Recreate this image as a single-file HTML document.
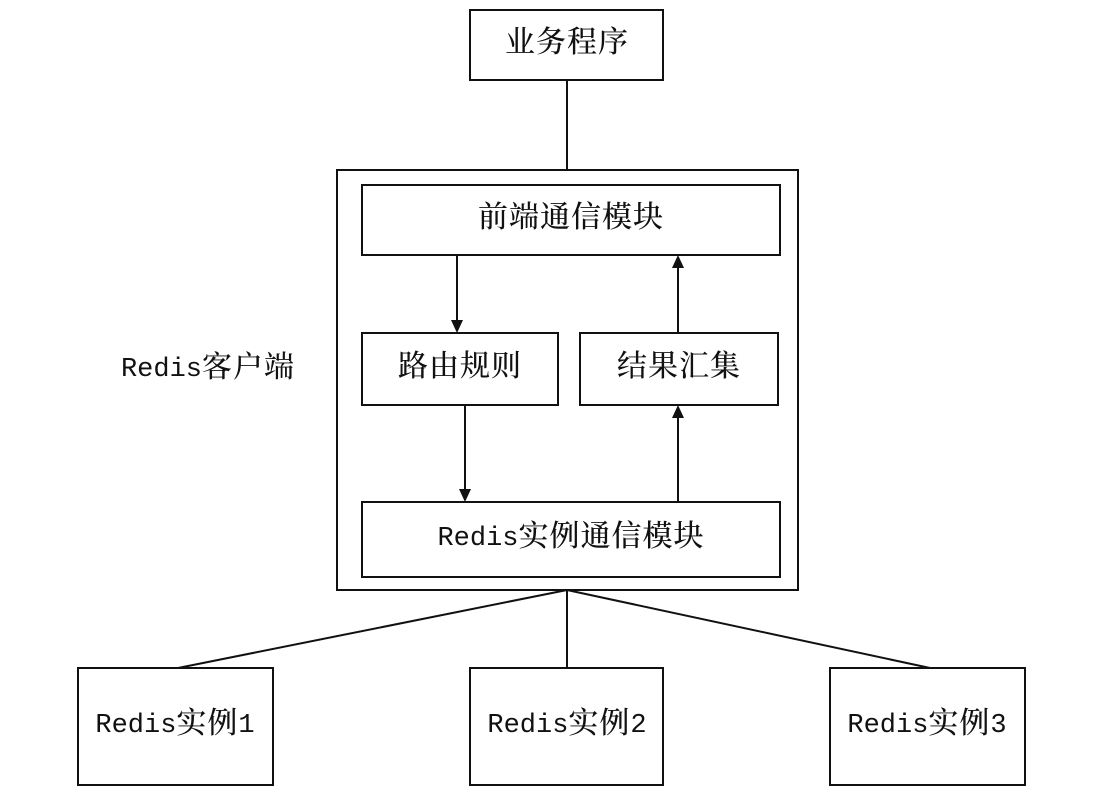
<!DOCTYPE html>
<html><head><meta charset="utf-8"><style>
html,body{margin:0;padding:0;background:#fff;}
svg text{font-family:"Liberation Mono","Noto Serif CJK SC","Noto Sans CJK SC",monospace;font-size:27px;fill:#111;text-anchor:middle;dominant-baseline:central;}
svg tspan.c{font-size:30px;letter-spacing:1px;font-weight:500;}
</style></head><body>
<svg width="1105" height="799" viewBox="0 0 1105 799" xmlns="http://www.w3.org/2000/svg">
<g fill="none" stroke="#111" stroke-width="2">
<rect x="470" y="10" width="193" height="70"/>
<line x1="567" y1="80" x2="567" y2="170"/>
<rect x="337" y="170" width="461" height="420"/>
<rect x="362" y="185" width="418" height="70"/>
<rect x="362" y="333" width="196" height="72"/>
<rect x="580" y="333" width="198" height="72"/>
<rect x="362" y="502" width="418" height="75"/>
<line x1="567" y1="590" x2="178" y2="668"/>
<line x1="567" y1="590" x2="567" y2="668"/>
<line x1="567" y1="590" x2="930" y2="668"/>
<rect x="78" y="668" width="195" height="117"/>
<rect x="470" y="668" width="193" height="117"/>
<rect x="830" y="668" width="195" height="117"/>
<line x1="457" y1="255" x2="457" y2="322"/>
<line x1="678" y1="333" x2="678" y2="266"/>
<line x1="465" y1="405" x2="465" y2="491"/>
<line x1="678" y1="502" x2="678" y2="416"/>
</g>
<g fill="#111">
<path d="M451,320 L463,320 L457,333 Z"/>
<path d="M672,268 L684,268 L678,255 Z"/>
<path d="M459,489 L471,489 L465,502 Z"/>
<path d="M672,418 L684,418 L678,405 Z"/>
</g>
<text x="567" y="45"><tspan class="c">业务程序</tspan></text>
<text x="571" y="220"><tspan class="c">前端通信模块</tspan></text>
<text x="460" y="369"><tspan class="c">路由规则</tspan></text>
<text x="679" y="369"><tspan class="c">结果汇集</tspan></text>
<text x="571" y="539">Redis<tspan class="c">实例通信模块</tspan></text>
<text x="208" y="370">Redis<tspan class="c">客户端</tspan></text>
<text x="175" y="726">Redis<tspan class="c">实例</tspan>1</text>
<text x="567" y="726">Redis<tspan class="c">实例</tspan>2</text>
<text x="927" y="726">Redis<tspan class="c">实例</tspan>3</text>
</svg>
</body></html>
